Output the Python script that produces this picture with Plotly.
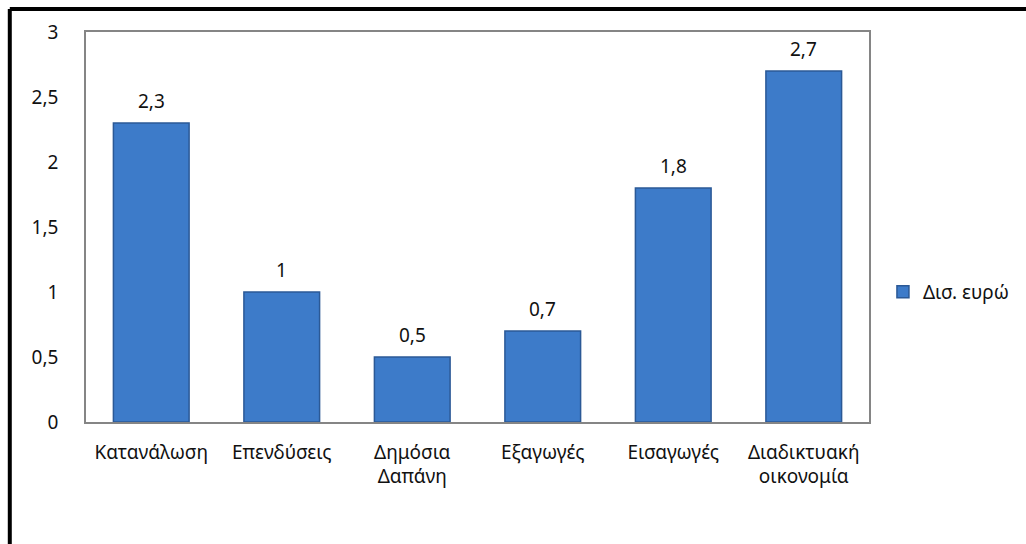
import plotly.graph_objects as go

categories = ["Κατανάλωση", "Επενδύσεις", "Δημόσια<br>Δαπάνη", "Εξαγωγές", "Εισαγωγές", "Διαδικτυακή<br>οικονομία"]
values = [2.3, 1.0, 0.5, 0.7, 1.8, 2.7]
value_labels = ["2,3", "1", "0,5", "0,7", "1,8", "2,7"]
series_name = "Δισ. ευρώ"
y_tickvals = [0, 0.5, 1, 1.5, 2, 2.5, 3]
y_ticktext = ["0", "0,5", "1", "1,5", "2", "2,5", "3"]

FONT = "Noto Sans"
TXT = "#111111"
FS = 19

fig = go.Figure()
fig.add_trace(go.Bar(
    x=categories, y=values, name=series_name,
    width=0.58,
    marker=dict(color="#3d7bc9", line=dict(color="#2b5996", width=1.5)),
    showlegend=True,
))

for c, v, t in zip(categories, values, value_labels):
    fig.add_annotation(x=c, y=v, text=t, showarrow=False, yshift=22,
                       font=dict(family=FONT, size=FS, color=TXT))

W, H = 1026, 544
L, R, T, B = 86, 872, 32, 422
def px(x):
    return (x - L) / (R - L)
def py(y):
    return (B - y) / (B - T)

# outer frame (top and left edges visible)
fig.add_shape(type="line", xref="paper", yref="paper",
              x0=px(9.5), x1=px(1040), y0=py(9), y1=py(9),
              line=dict(color="black", width=4))
fig.add_shape(type="line", xref="paper", yref="paper",
              x0=px(9.5), x1=px(9.5), y0=py(9), y1=py(560),
              line=dict(color="black", width=4))

fig.update_layout(
    width=W, height=H,
    margin=dict(l=L, r=W - R, t=T, b=H - B, pad=0),
    paper_bgcolor="white", plot_bgcolor="white",
    font=dict(family=FONT, size=FS, color=TXT),
    separators=",.",
    bargap=0.42,
    legend=dict(x=px(886), y=py(292), xanchor="left", yanchor="middle",
                font=dict(family=FONT, size=FS, color=TXT),
                itemwidth=30, tracegroupgap=0, bgcolor="rgba(0,0,0,0)"),
    xaxis=dict(showline=True, linecolor="#858585", linewidth=1.5, mirror=True,
               showgrid=False, ticks="", ticklabelstandoff=12,
               tickfont=dict(family=FONT, size=FS, color=TXT)),
    yaxis=dict(range=[0, 3], showline=True, linecolor="#858585", linewidth=1.5, mirror=True,
               showgrid=False, zeroline=False, ticks="",
               tickvals=y_tickvals, ticktext=y_ticktext, ticklabelstandoff=22,
               tickfont=dict(family=FONT, size=FS, color=TXT)),
)

fig.write_html("out.html")
